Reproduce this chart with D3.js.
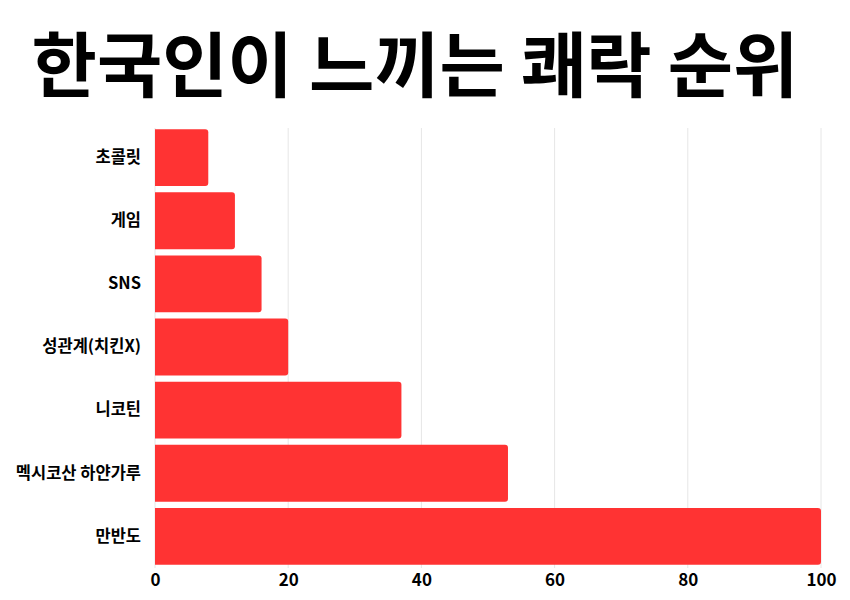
<!DOCTYPE html>
<html><head><meta charset="utf-8">
<script src="https://cdn.jsdelivr.net/npm/d3@7"></script>
<style>
html,body{margin:0;padding:0;background:#fff;}
svg text{font-family:"Noto Sans CJK KR","Noto Sans",sans-serif;}
</style></head>
<body>
<svg id="c" width="850" height="600"></svg>
<script>
const title = "한국인이 느끼는 쾌락 순위";
const categories = ["초콜릿","게임","SNS","성관계(치킨X)","니코틴","멕시코산 하얀가루","만반도"];
const values = [8,12,16,20,37,53,100];
const xTicks = [0,20,40,60,80,100];

const svg = d3.select("#c");
const m = {left:155, right:821, top:126, bottom:568};
const x = d3.scaleLinear().domain([0,100]).range([m.left,m.right]);
const y = d3.scaleBand().domain(categories).range([m.top,m.bottom]).paddingInner(0.1).paddingOuter(0.05);

svg.append("text").attr("x",415).attr("y",91).attr("text-anchor","middle")
  .attr("font-size",71).attr("font-weight",700).attr("fill","#000").text(title);

svg.append("g").selectAll("line").data(xTicks).join("line")
  .attr("x1",d=>x(d)).attr("x2",d=>x(d)).attr("y1",128).attr("y2",568)
  .attr("stroke","#e6e6e6").attr("stroke-width",1);

const r = 3;
svg.append("g").selectAll("path").data(categories).join("path")
  .attr("fill","#ff3333")
  .attr("d",(c,i)=>{
    const x0=x(0), x1=x(values[i]), y0=y(c), h=y.bandwidth();
    return `M${x0},${y0}H${x1-r}Q${x1},${y0} ${x1},${y0+r}V${y0+h-r}Q${x1},${y0+h} ${x1-r},${y0+h}H${x0}Z`;
  });

const ya = svg.append("g").attr("transform",`translate(${m.left-14},0)`)
  .call(d3.axisLeft(y).tickSize(0).tickPadding(0));
ya.select(".domain").remove();
ya.selectAll("text").attr("font-size",16.5).attr("font-weight",700).attr("fill","#000")
  .style("font-family",'"Noto Sans CJK KR",sans-serif');

const xa = svg.append("g").attr("transform",`translate(0,570)`)
  .call(d3.axisBottom(x).tickValues(xTicks).tickSize(0).tickPadding(4));
xa.select(".domain").remove();
xa.selectAll("text").attr("font-size",17).attr("font-weight",700).attr("fill","#000")
  .style("font-family",'"Noto Sans CJK KR",sans-serif');
</script>
</body></html>
